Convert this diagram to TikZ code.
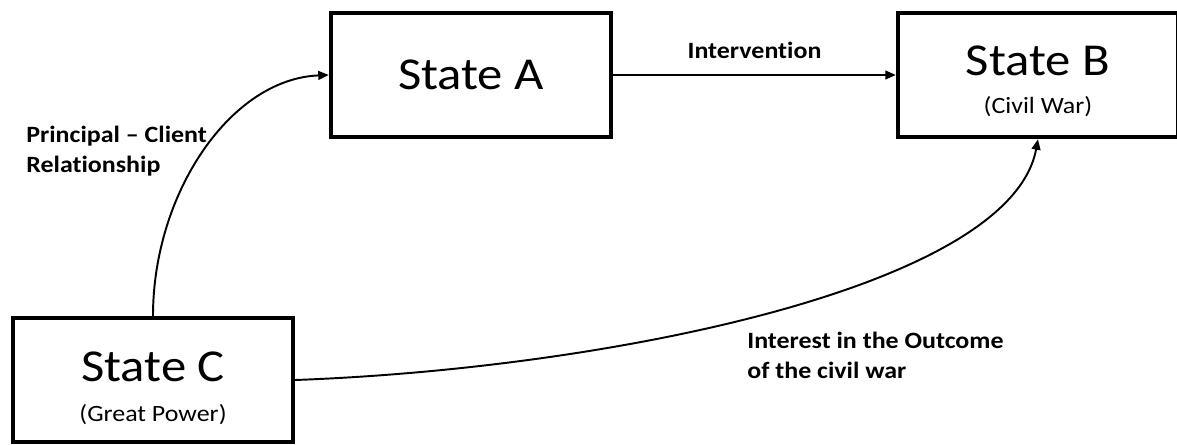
\documentclass[tikz,border=0pt]{standalone}
\usepackage{fontspec}
\setmainfont{Carlito}[FakeStretch=1.11, Ligatures=NoCommon]
\usetikzlibrary{arrows.meta}
\begin{document}
\begin{tikzpicture}
\tikzset{boite/.style={draw, line width=2.5pt, minimum width=5.6cm, minimum height=2.48cm, align=center, font=\fontsize{26}{30}\selectfont}}
\tikzset{etiq/.style={font=\bfseries\fontsize{13.3}{17}\selectfont, align=left, inner sep=0pt}}
\tikzset{fleche/.style={line width=1.1pt, -{Triangle[length=6pt, width=5pt]}}}
\useasboundingbox (0, 0) rectangle (23.54, 8.88);
\node[boite] (EA) at (9.42, 7.38) {State A};
\node[boite] (EB) at (20.76, 7.38) {\rule{0pt}{24pt}State B\\[-8pt]{\fontsize{13.3}{16}\selectfont (Civil War)}};
\node[boite] (EC) at (3.06, 1.28) {\rule{0pt}{26pt}State C\\[-7.3pt]{\fontsize{13.3}{16}\selectfont (Great Power)}};
\node[etiq, anchor=north west] (PC) at (0.52, 6.36) {Principal – Client\\Relationship};
\node[etiq, anchor=north west] (IO) at (14.94, 2.24) {Interest in the Outcome\\of the civil war};
\draw[fleche] (EA) -- node[etiq, above=0.3cm] (IV) {Intervention} (EB);
\draw[fleche] (EC.north) .. controls (3.06, 5.0) and (4.6, 7.3) .. (EA.west);
\draw[fleche] (EC.east) .. controls (12, 1.5) and (20.2, 3.1) .. (EB.south);
\end{tikzpicture}
\end{document}
